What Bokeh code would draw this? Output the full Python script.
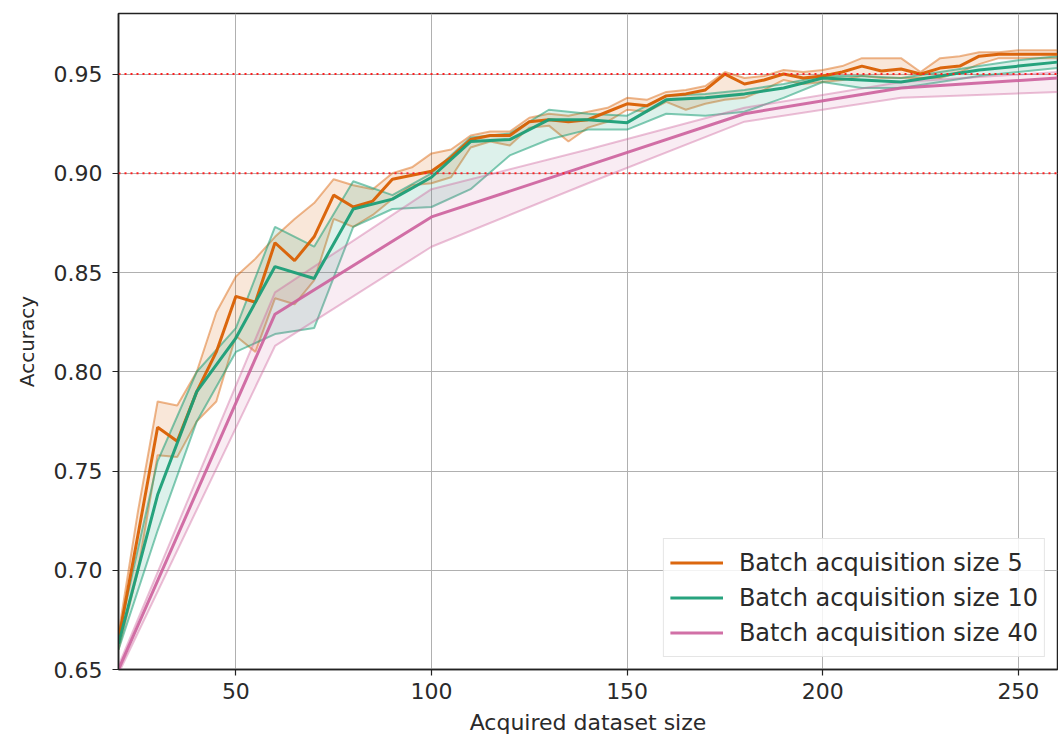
from bokeh.plotting import figure
from bokeh.models import Range1d, Span, Legend, LegendItem, FixedTicker, PrintfTickFormatter
from bokeh.embed import file_html
from bokeh.resources import INLINE

# ---------------- data ----------------
x_b5 = [20, 25, 30, 35, 40, 45, 50, 55, 60, 65, 70, 75, 80, 85, 90, 95, 100, 105, 110, 115,
        120, 125, 130, 135, 140, 145, 150, 155, 160, 165, 170, 175, 180, 185, 190, 195, 200,
        205, 210, 215, 220, 225, 230, 235, 240, 245, 250, 255, 260]
mean_b5 = [0.665, 0.718, 0.772, 0.765, 0.790, 0.810, 0.838, 0.835, 0.865, 0.856, 0.868, 0.889,
           0.883, 0.886, 0.897, 0.899, 0.901, 0.908, 0.917, 0.919, 0.919, 0.926, 0.927, 0.926,
           0.927, 0.931, 0.935, 0.934, 0.939, 0.940, 0.942, 0.950, 0.945, 0.947, 0.950, 0.948,
           0.949, 0.951, 0.954, 0.9515, 0.9525, 0.950, 0.953, 0.954, 0.959, 0.960, 0.960, 0.960, 0.960]
upper_b5 = [0.668, 0.730, 0.785, 0.783, 0.800, 0.830, 0.848, 0.857, 0.868, 0.877, 0.885, 0.897,
            0.894, 0.892, 0.900, 0.903, 0.910, 0.912, 0.919, 0.921, 0.921, 0.928, 0.930, 0.929,
            0.931, 0.933, 0.938, 0.937, 0.941, 0.942, 0.944, 0.951, 0.948, 0.949, 0.952, 0.951,
            0.952, 0.954, 0.958, 0.958, 0.958, 0.951, 0.958, 0.959, 0.961, 0.961, 0.962, 0.962, 0.962]
lower_b5 = [0.660, 0.700, 0.758, 0.757, 0.775, 0.785, 0.818, 0.810, 0.837, 0.834, 0.846, 0.877,
            0.873, 0.879, 0.887, 0.894, 0.895, 0.898, 0.913, 0.916, 0.914, 0.923, 0.924, 0.916,
            0.923, 0.926, 0.932, 0.931, 0.936, 0.932, 0.935, 0.937, 0.938, 0.942, 0.947, 0.945,
            0.946, 0.947, 0.949, 0.948, 0.948, 0.948, 0.948, 0.951, 0.955, 0.958, 0.958, 0.958, 0.958]

x_b10 = [20, 30, 40, 50, 60, 70, 80, 90, 100, 110, 120, 130, 140, 150, 160, 170, 180, 190, 200,
         210, 220, 230, 240, 250, 260]
mean_b10 = [0.663, 0.738, 0.790, 0.817, 0.853, 0.847, 0.882, 0.887, 0.898, 0.916, 0.917, 0.927,
            0.927, 0.9255, 0.937, 0.938, 0.940, 0.943, 0.948, 0.947, 0.946, 0.949, 0.952, 0.954, 0.956]
upper_b10 = [0.667, 0.755, 0.800, 0.822, 0.873, 0.863, 0.896, 0.889, 0.900, 0.918, 0.920, 0.932,
             0.930, 0.929, 0.939, 0.940, 0.942, 0.945, 0.949, 0.949, 0.948, 0.951, 0.954, 0.957, 0.959]
lower_b10 = [0.660, 0.720, 0.775, 0.810, 0.819, 0.822, 0.873, 0.882, 0.883, 0.892, 0.909, 0.917,
             0.922, 0.922, 0.930, 0.929, 0.931, 0.938, 0.946, 0.943, 0.943, 0.946, 0.949, 0.951, 0.953]

x_b40 = [20, 60, 100, 140, 180, 220, 260]
mean_b40 = [0.650, 0.829, 0.878, 0.904, 0.930, 0.943, 0.948]
upper_b40 = [0.652, 0.840, 0.892, 0.912, 0.933, 0.946, 0.951]
lower_b40 = [0.648, 0.813, 0.863, 0.895, 0.926, 0.938, 0.941]

labels = ["Batch acquisition size 5", "Batch acquisition size 10", "Batch acquisition size 40"]
thresholds = [0.90, 0.95]
x_ticks = [50, 100, 150, 200, 250]
y_ticks = [0.65, 0.70, 0.75, 0.80, 0.85, 0.90, 0.95]

# ---------------- figure ----------------
FONT = "DejaVu Sans"
TXT = "#2a2a2a"

p = figure(width=1058, height=744, output_backend="svg", toolbar_location=None,
           x_range=Range1d(20, 260), y_range=Range1d(0.65, 0.9805),
           min_border_left=118, min_border_right=1, min_border_top=13, min_border_bottom=75)

p.background_fill_color = "white"
p.border_fill_color = "white"
p.outline_line_color = "#222222"
p.outline_line_width = 1.5

p.xgrid.grid_line_color = "#b0b0b0"
p.ygrid.grid_line_color = "#b0b0b0"
p.xgrid.grid_line_width = 1
p.ygrid.grid_line_width = 1

p.xaxis.ticker = FixedTicker(ticks=x_ticks)
p.yaxis.ticker = FixedTicker(ticks=y_ticks)
p.yaxis.formatter = PrintfTickFormatter(format="%.2f")

for ax in (p.xaxis[0], p.yaxis[0]):
    ax.major_label_text_font = FONT
    ax.major_label_text_font_size = "22px"
    ax.major_label_text_color = TXT
    ax.axis_label_text_font = FONT
    ax.axis_label_text_font_style = "normal"
    ax.axis_label_text_color = TXT
    ax.major_tick_out = 6
    ax.major_tick_in = 0
    ax.minor_tick_out = 0
    ax.minor_tick_in = 0
    ax.axis_line_color = "#222222"
    ax.axis_line_width = 1.5
    ax.major_tick_line_color = "#222222"
    ax.major_tick_line_width = 1.2

p.xaxis.axis_label = "Acquired dataset size"
p.yaxis.axis_label = "Accuracy"
p.xaxis.axis_label_text_font_size = "22px"
p.yaxis.axis_label_text_font_size = "20px"
p.xaxis.major_label_standoff = 7
p.xaxis.axis_label_standoff = 8
p.yaxis.major_label_standoff = 10
p.yaxis.axis_label_standoff = 12

series = [
    (x_b5, mean_b5, upper_b5, lower_b5, "#d95f02", 0.15, 0.45, 0.95),
    (x_b10, mean_b10, upper_b10, lower_b10, "#1b9e77", 0.15, 0.55, 0.95),
    (x_b40, mean_b40, upper_b40, lower_b40, "#cc619c", 0.12, 0.40, 0.90),
]

mean_renderers = []
for xs, m, up, lo, col, fa, ea, ma in series:
    p.varea(x=xs, y1=lo, y2=up, fill_color=col, fill_alpha=fa)
    p.line(xs, up, line_color=col, line_alpha=ea, line_width=2)
    p.line(xs, lo, line_color=col, line_alpha=ea, line_width=2)

for xs, m, up, lo, col, fa, ea, ma in series:
    r = p.line(xs, m, line_color=col, line_alpha=ma, line_width=3)
    mean_renderers.append(r)

for t in thresholds:
    p.add_layout(Span(location=t, dimension="width", line_color="#ff2020",
                      line_dash="2 4", line_width=2))

legend = Legend(items=[LegendItem(label=lab, renderers=[r]) for lab, r in zip(labels, mean_renderers)],
                location="bottom_right")
legend.label_text_font = FONT
legend.label_text_font_size = "24px"
legend.label_text_color = TXT
legend.glyph_width = 53
legend.glyph_height = 35
legend.label_height = 35
legend.label_standoff = 16
legend.spacing = 0
legend.padding = 6
legend.margin = 12
legend.border_line_color = "#cccccc"
legend.border_line_width = 1
legend.background_fill_color = "white"
legend.background_fill_alpha = 0.85
p.add_layout(legend)

open("out.html", "w").write(file_html(p, INLINE))
